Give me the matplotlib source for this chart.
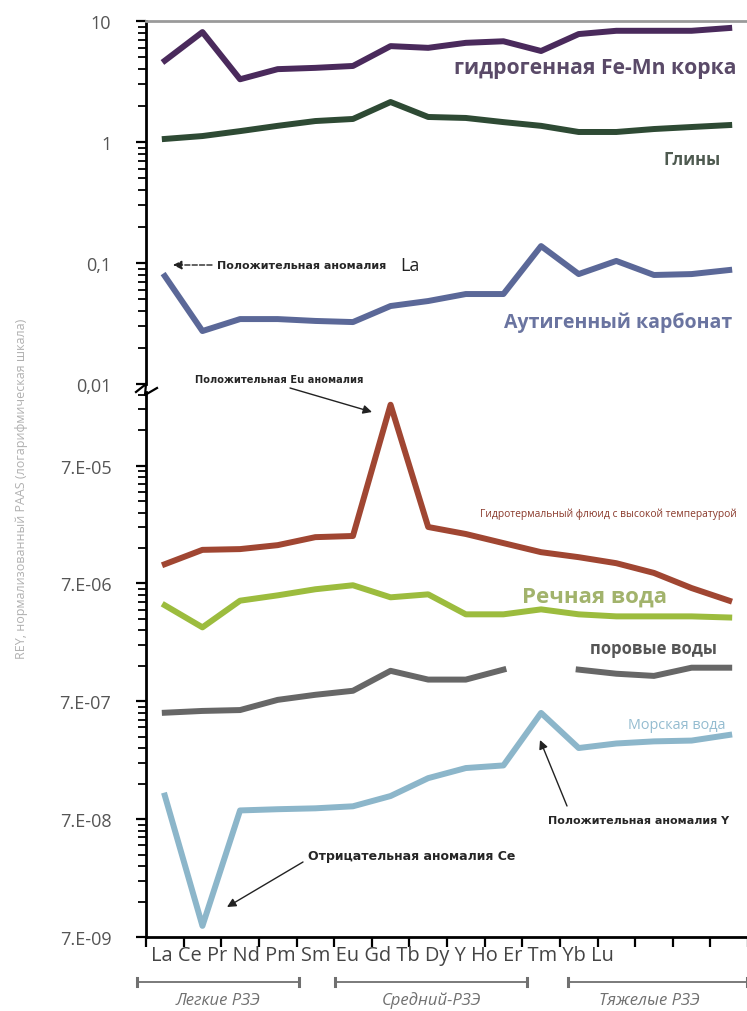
import numpy as np
import matplotlib.pyplot as plt
from matplotlib.ticker import FixedLocator, FixedFormatter, LogLocator, NullFormatter, NullLocator
from matplotlib.lines import Line2D

plt.rcParams['font.family'] = ['Open Sans', 'DejaVu Sans']

W, H = 747, 1012

# элементы РЗЭ+Y по оси X
elements = ['La', 'Ce', 'Pr', 'Nd', 'Pm', 'Sm', 'Eu', 'Gd', 'Tb', 'Dy', 'Y', 'Ho', 'Er', 'Tm', 'Yb', 'Lu']

# верхняя часть шкалы (0,01 - 10)
fe_mn_crust = [4.7, 8.1, 3.3, 4.0, 4.1, 4.25, 6.2, 6.0, 6.6, 6.8, 5.65, 7.8, 8.3, 8.3, 8.3, 8.75]
clays = [1.06, 1.12, 1.23, 1.36, 1.49, 1.55, 2.14, 1.61, 1.58, 1.46, 1.36, 1.21, 1.21, 1.28, 1.33, 1.38]
carbonate = [0.078, 0.0274, 0.0344, 0.0344, 0.0332, 0.0325, 0.0441, 0.0485, 0.0554, 0.0554,
             0.138, 0.081, 0.104, 0.0796, 0.081, 0.0875]

# нижняя часть шкалы (воды)
hydrothermal = [1.02e-5, 1.35e-5, 1.37e-5, 1.48e-5, 1.73e-5, 1.77e-5, 2.3e-4, 2.11e-5, 1.84e-5,
                1.54e-5, 1.29e-5, 1.17e-5, 1.04e-5, 8.6e-6, 6.4e-6, 5.0e-6]
river = [4.57e-6, 2.97e-6, 5.0e-6, 5.55e-6, 6.25e-6, 6.76e-6, 5.34e-6, 5.66e-6, 3.83e-6, 3.83e-6,
         4.22e-6, 3.83e-6, 3.68e-6, 3.68e-6, 3.68e-6, 3.6e-6]
pore = [5.6e-7, 5.8e-7, 5.9e-7, 7.2e-7, 7.95e-7, 8.6e-7, 1.27e-6, 1.07e-6, 1.07e-6, 1.30e-6,
        np.nan, 1.30e-6, 1.20e-6, 1.15e-6, 1.35e-6, 1.35e-6]
seawater = [1.11e-7, 8.7e-9, 8.3e-8, 8.5e-8, 8.65e-8, 9.0e-8, 1.1e-7, 1.56e-7, 1.9e-7, 2.0e-7,
            5.58e-7, 2.81e-7, 3.07e-7, 3.2e-7, 3.25e-7, 3.63e-7]

top_ticks = [0.01, 0.1, 1, 10]
top_labels = ['0,01', '0,1', '1', '10']
low_ticks = [7e-9, 7e-8, 7e-7, 7e-6, 7e-5]
low_labels = ['7.E-09', '7.E-08', '7.E-07', '7.E-06', '7.E-05']
low_top = 2.95e-4

groups = [('Легкие РЗЭ', 137, 299), ('Средний-РЗЭ', 335, 527), ('Тяжелые РЗЭ', 568, 747)]


def fx(px):
    return px / W


def fy(py):
    return 1 - py / H


x = np.arange(len(elements))
fig = plt.figure(figsize=(W / 100, H / 100), dpi=100)

ax_left = fx(146)
ax_w = fx(602)
ax1 = fig.add_axes([ax_left, fy(385), ax_w, fy(22) - fy(385)])
ax2 = fig.add_axes([ax_left, fy(938), ax_w, fy(393) - fy(938)])

lw = 4.3
ax1.plot(x, fe_mn_crust, color='#4a2a5c', lw=lw)
ax1.plot(x, clays, color='#2e4a34', lw=lw)
ax1.plot(x, carbonate, color='#5b6898', lw=lw)

ax2.plot(x, hydrothermal, color='#a04632', lw=lw)
ax2.plot(x, river, color='#9cbc3e', lw=lw)
ax2.plot(x, pore, color='#676767', lw=lw)
ax2.plot(x, seawater, color='#8cb6ca', lw=lw)

for ax in (ax1, ax2):
    ax.set_yscale('log')
    ax.set_xlim(-0.5, len(elements) - 0.5)
    ax.spines['right'].set_visible(False)
    ax.spines['left'].set_linewidth(2)
    ax.tick_params(axis='y', which='major', direction='out', length=7, width=1.6,
                   labelsize=13, labelcolor='#555555', pad=18)
    ax.tick_params(axis='y', which='minor', direction='out', length=6, width=1.3)

ax1.set_ylim(0.01, 10)
ax1.yaxis.set_major_locator(FixedLocator(top_ticks))
ax1.yaxis.set_major_formatter(FixedFormatter(top_labels))
ax1.yaxis.set_minor_locator(LogLocator(base=10, subs=np.arange(2, 10)))
ax1.yaxis.set_minor_formatter(NullFormatter())
ax1.spines['bottom'].set_visible(False)
ax1.spines['top'].set_color('#9a9a9a')
ax1.spines['top'].set_linewidth(2)
ax1.xaxis.set_major_locator(NullLocator())

ax2.set_ylim(low_ticks[0], low_top)
ax2.yaxis.set_major_locator(FixedLocator(low_ticks))
ax2.yaxis.set_major_formatter(FixedFormatter(low_labels))
minor = [k * m for m in low_ticks for k in range(2, 10) if k * m < low_top]
ax2.yaxis.set_minor_locator(FixedLocator(minor))
ax2.yaxis.set_minor_formatter(NullFormatter())
ax2.spines['top'].set_visible(False)
ax2.spines['bottom'].set_linewidth(2)
ax2.set_xticks(np.arange(-0.5, len(elements) + 0.5, 1))
ax2.set_xticklabels([])
ax2.tick_params(axis='x', direction='out', length=7, width=1.6)

# разрыв оси
zig = [(136, 393), (146, 385), (145, 396), (157, 389)]
fig.add_artist(Line2D([fx(p[0]) for p in zig], [fy(p[1]) for p in zig],
                      color='black', lw=1.6))

# подписи элементов одной строкой
fig.text(fx(151), fy(956), ' '.join(elements), fontsize=14.4, color='#444444',
         ha='left', va='center')

# группы РЗЭ
for name, x0, x1 in groups:
    fig.add_artist(Line2D([fx(x0), fx(x1)], [fy(983), fy(983)], color='#707070', lw=1.3))
    for xe in (x0, x1):
        fig.add_artist(Line2D([fx(xe), fx(xe)], [fy(979), fy(987)], color='#707070', lw=2.2))
    fig.text(fx((x0 + min(x1, 730)) / 2), fy(1001), name, fontsize=12, color='#707070',
             ha='center', va='center', style='italic')

# подпись оси Y
fig.text(fx(22), fy(489), 'REY, нормализованный PAAS (логарифмическая шкала)', rotation=90,
         fontsize=9, color='#b0b0b0', ha='center', va='center')

# названия серий
fig.text(fx(736), fy(69), 'гидрогенная Fe-Mn корка', fontsize=15.2, fontweight='bold',
         color='#5a4a68', ha='right', va='center')
fig.text(fx(721), fy(160), 'Глины', fontsize=12, fontweight='bold',
         color='#4e5a50', ha='right', va='center')
fig.text(fx(732), fy(323), 'Аутигенный карбонат', fontsize=14, fontweight='bold',
         color='#6a74a0', ha='right', va='center')
fig.text(fx(737), fy(514), 'Гидротермальный флюид с высокой температурой', fontsize=7.4,
         color='#8a3a2c', ha='right', va='center')
fig.text(fx(667), fy(597), 'Речная вода', fontsize=16, fontweight='bold',
         color='#a2b36c', ha='right', va='center')
fig.text(fx(717), fy(649), 'поровые воды', fontsize=12, fontweight='bold',
         color='#555555', ha='right', va='center')
fig.text(fx(726), fy(726), 'Морская вода', fontsize=10.4, color='#94bcd0',
         ha='right', va='center')

# аномалии
ann = dict(family=['DejaVu Sans'], fontweight='bold', color='#262626', va='center', ha='left')
fig.text(fx(217), fy(266), 'Положительная аномалия', fontsize=8.0, **ann)
fig.text(fx(400), fy(266), 'La', fontsize=13, color='#222222', ha='left', va='center')
fig.text(fx(195), fy(380), 'Положительная Eu аномалия', fontsize=7.1, **ann)
fig.text(fx(548), fy(821), 'Положительная аномалия Y', fontsize=8.0, **ann)
fig.text(fx(308), fy(857), 'Отрицательная аномалия Ce', fontsize=9.0, **ann)

arrows = [((212, 266), (173, 266), '--'), ((290, 389), (372, 413), '-'),
          ((567, 807), (540, 741), '-'), ((303, 863), (227, 908), '-')]
for (tx, ty), (hx, hy), ls in arrows:
    fig.add_artist(plt.Annotation('', xy=(fx(hx), fy(hy)), xytext=(fx(tx), fy(ty)),
                                  xycoords='figure fraction', textcoords='figure fraction',
                                  arrowprops=dict(arrowstyle='-|>', color='#222222', lw=1,
                                                  ls=ls, mutation_scale=13, shrinkA=0, shrinkB=0)))

fig.savefig('out.png', dpi=100, facecolor='white')
